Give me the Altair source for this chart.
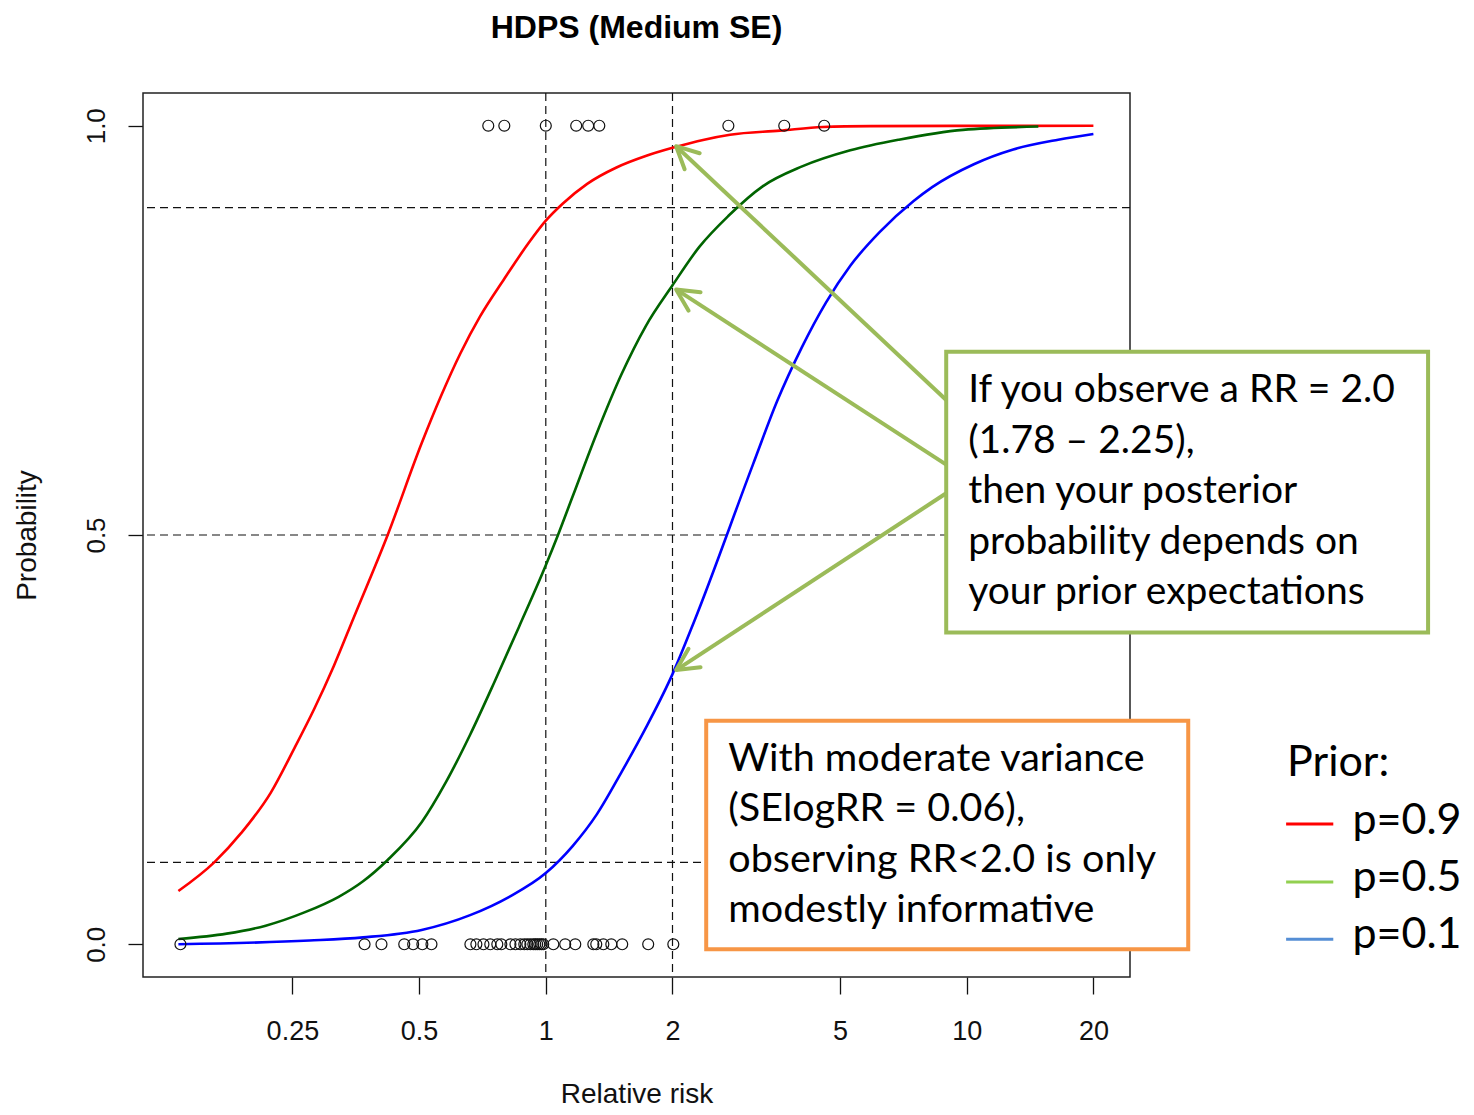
import math
import altair as alt
import pandas as pd

# ---------------- data ----------------
red_x = [0.134, 0.163, 0.189, 0.222, 0.253, 0.282, 0.3136, 0.349, 0.421, 0.507, 0.564,
         0.627, 0.698, 0.797, 0.911, 1.0, 1.098, 1.254, 1.472, 1.727, 2.0, 2.379, 2.74, 3.6, 4.55, 5.9, 20.0]
red_p = [0.065, 0.100, 0.136, 0.185, 0.240, 0.288, 0.340, 0.398, 0.500, 0.612, 0.670,
         0.722, 0.767, 0.813, 0.857, 0.884, 0.905, 0.929, 0.949, 0.963, 0.973, 0.983, 0.989, 0.994, 0.9985,
         0.9995, 1.0]

green_x = [0.134, 0.1745, 0.216, 0.267, 0.322, 0.368, 0.421, 0.507, 0.579, 0.661, 0.756, 0.864, 1.0,
           1.069, 1.158, 1.323, 1.512, 1.727, 2.0, 2.316, 2.717, 3.275, 4.05, 5.29, 6.9, 9.8, 14.8]
green_p = [0.0065, 0.013, 0.0227, 0.0389, 0.058, 0.077, 0.103, 0.149, 0.198, 0.256, 0.321, 0.388, 0.463,
           0.500, 0.547, 0.625, 0.696, 0.755, 0.805, 0.852, 0.890, 0.926, 0.950, 0.970, 0.983, 0.995, 0.999]

blue_x = [0.134, 0.2745, 0.368, 0.507, 0.661, 0.819, 1.0, 1.158, 1.323, 1.512, 1.727, 2.0, 2.254,
          3.105, 3.548, 4.055, 4.63, 5.29, 6.21, 7.48, 8.28, 10.4, 12.9, 16.5, 20.0]
blue_p = [0.0, 0.0045, 0.0084, 0.0175, 0.0356, 0.058, 0.087, 0.120, 0.159, 0.210, 0.264, 0.330, 0.395,
          0.586, 0.664, 0.729, 0.784, 0.829, 0.870, 0.908, 0.925, 0.953, 0.971, 0.983, 0.990]

# observed relative risks (circles) at probability 0 and 1
obs0_x = [0.1355, 0.371, 0.407, 0.461, 0.484, 0.509, 0.535, 0.662, 0.684, 0.711, 0.738, 0.767, 0.784,
          0.824, 0.847, 0.870, 0.889, 0.904, 0.919, 0.934, 0.944, 0.954, 0.965, 0.976, 0.986,
          1.042, 1.112, 1.175, 1.297, 1.318, 1.370, 1.431, 1.519, 1.751, 2.009, 3.96]
obs1_x = [0.730, 0.797, 1.0, 1.181, 1.261, 1.340, 2.715, 3.686, 4.587]

x_ticks = [0.25, 0.5, 1, 2, 5, 10, 20]
y_ticks = [0.0, 0.5, 1.0]
h_ref = [0.1, 0.5, 0.9]
v_ref = [1, 2]

series_names = ["p=0.9", "p=0.5", "p=0.1"]
curve_colors = ["#FF0000", "#006400", "#0000FF"]
legend_colors = ["#FF0000", "#92D050", "#558ED5"]

# annotations (data coordinates)
green_box = dict(x=8.94, x2=124.8, y=0.724, y2=0.381)
orange_box = dict(x=2.405, x2=33.6, y=0.273, y2=-0.006)
green_text = ["If you observe a RR = 2.0", "(1.78 \u2013 2.25),", "then your posterior",
              "probability depends on", "your prior expectations"]
orange_text = ["With moderate variance", "(SElogRR = 0.06),", "observing RR<2.0 is only",
               "modestly informative"]
green_text_pos = (10.08, 0.662)
orange_text_pos = (2.714, 0.212)
arrow_start_x = [8.94, 8.94, 8.94]
arrow_start_y = [0.665, 0.586, 0.551]
arrow_tip_x = [2.04, 2.04, 2.04]
arrow_tip_y = [0.975, 0.800, 0.335]

legend_title_pos = (57.7, 0.206)
legend_line_x = (57.4, 74.3)
legend_line_y = [0.147, 0.076, 0.006]
legend_text_x = 82.5
legend_text_y = [0.135, 0.065, -0.005]

# ---------------- layout ----------------
W, H = 987, 884
XLO, XHI = 10 ** -0.957, 10 ** 1.388
YLO, YHI = -0.04, 1.04

xs = alt.Scale(type="log", domain=[XLO, XHI], nice=False)
ys = alt.Scale(domain=[YLO, YHI], nice=False, zero=False)

x_axis = alt.Axis(values=x_ticks, format="~g", title="Relative risk", grid=False, domain=False,
                  tickSize=17, tickColor="#111", tickWidth=1.3, labelFontSize=27,
                  labelFont="Liberation Sans", labelColor="#111", labelPadding=24,
                  labelFlush=False, labelOverlap=False, titleFont="Liberation Sans",
                  titleFontSize=28, titleFontWeight="normal", titleColor="#111", titlePadding=36)
y_axis = alt.Axis(values=y_ticks, format=".1f", title="Probability", grid=False, domain=False,
                  tickSize=15, tickColor="#111", tickWidth=1.3, labelFontSize=26,
                  labelFont="Liberation Sans", labelColor="#111", labelAngle=270,
                  labelAlign="center", labelBaseline="bottom", labelPadding=19,
                  labelFlush=False, titleFont="Liberation Sans", titleFontSize=28,
                  titleFontWeight="normal", titleColor="#111", titlePadding=42)

X = lambda f="x": alt.X(f"{f}:Q", scale=xs, axis=x_axis)
Y = lambda f="y": alt.Y(f"{f}:Q", scale=ys, axis=y_axis)


def px(x):
    return W * (math.log10(x) - math.log10(XLO)) / (math.log10(XHI) - math.log10(XLO))


def py(y):
    return H * (1 - (y - YLO) / (YHI - YLO))


# frame
frame = alt.Chart(pd.DataFrame({"x": [XLO], "x2": [XHI], "y": [YLO], "y2": [YHI]})).mark_rect(
    fill="white", stroke="#222", strokeWidth=1.5
).encode(x=X(), x2="x2:Q", y=Y(), y2="y2:Q")

hlines = alt.Chart(pd.DataFrame({"y": h_ref})).mark_rule(
    color="#111", strokeDash=[8, 5], strokeWidth=1.2
).encode(y=Y())
vlines = alt.Chart(pd.DataFrame({"x": v_ref})).mark_rule(
    color="#111", strokeDash=[8, 5], strokeWidth=1.2
).encode(x=X())

rows = []
for name, xv, pv in zip(series_names, [red_x, green_x, blue_x], [red_p, green_p, blue_p]):
    for i, (a, b) in enumerate(zip(xv, pv)):
        rows.append({"x": a, "y": b, "s": name, "o": i})
curves = alt.Chart(pd.DataFrame(rows)).mark_line(strokeWidth=2.6, interpolate="monotone").encode(
    x=X(), y=Y(), order="o:Q",
    color=alt.Color("s:N", scale=alt.Scale(domain=series_names, range=curve_colors), legend=None),
)

pts = pd.DataFrame({"x": obs0_x + obs1_x, "y": [0.0] * len(obs0_x) + [1.0] * len(obs1_x)})
points = alt.Chart(pts).mark_point(shape="circle", filled=False, color="#111", size=120,
                                   strokeWidth=1.2, opacity=1).encode(x=X(), y=Y())

arr = pd.DataFrame({"x": arrow_start_x, "y": arrow_start_y, "x2": arrow_tip_x, "y2": arrow_tip_y})
arrow_lines = alt.Chart(arr).mark_rule(color="#9BBB59", strokeWidth=4).encode(
    x=X(), y=Y(), x2="x2:Q", y2="y2:Q")

angles = []
for sx, sy, tx, ty in zip(arrow_start_x, arrow_start_y, arrow_tip_x, arrow_tip_y):
    dx = px(tx) - px(sx)
    dy = py(ty) - py(sy)
    angles.append(math.degrees(math.atan2(dx, -dy)) % 360)
heads = alt.Chart(pd.DataFrame({"x": arrow_tip_x, "y": arrow_tip_y, "a": angles})).mark_point(
    shape="M -0.55 1.1 L 0 0 L 0.55 1.1", filled=False, stroke="#9BBB59", strokeWidth=4,
    size=1600, opacity=1, strokeCap="round", strokeJoin="round"
).encode(x=X(), y=Y(), angle=alt.Angle("a:Q", scale=None))

gbox = alt.Chart(pd.DataFrame([green_box])).mark_rect(fill="white", stroke="#9BBB59", strokeWidth=4).encode(
    x=X(), x2="x2:Q", y=Y(), y2="y2:Q")
obox = alt.Chart(pd.DataFrame([orange_box])).mark_rect(fill="white", stroke="#F79646", strokeWidth=4).encode(
    x=X(), x2="x2:Q", y=Y(), y2="y2:Q")

gtext = alt.Chart(pd.DataFrame({"x": [green_text_pos[0]], "y": [green_text_pos[1]],
                                "t": ["\n".join(green_text)]})).mark_text(
    align="left", baseline="alphabetic", font="Lato", fontSize=39, lineHeight=50.5,
    lineBreak="\n", color="#000"
).encode(x=X(), y=Y(), text="t:N")
otext = alt.Chart(pd.DataFrame({"x": [orange_text_pos[0]], "y": [orange_text_pos[1]],
                                "t": ["\n".join(orange_text)]})).mark_text(
    align="left", baseline="alphabetic", font="Lato", fontSize=39.5, lineHeight=50.5,
    lineBreak="\n", color="#000"
).encode(x=X(), y=Y(), text="t:N")

ltitle = alt.Chart(pd.DataFrame({"x": [legend_title_pos[0]], "y": [legend_title_pos[1]], "t": ["Prior:"]})).mark_text(
    align="left", baseline="alphabetic", font="Lato", fontSize=43, color="#000"
).encode(x=X(), y=Y(), text="t:N")
lg = pd.DataFrame({"x": [legend_line_x[0]] * 3, "x2": [legend_line_x[1]] * 3, "y": legend_line_y,
                   "s": series_names})
llines = alt.Chart(lg).mark_rule(strokeWidth=3).encode(
    x=X(), x2="x2:Q", y=Y(),
    color=alt.Color("s:N", scale=alt.Scale(domain=series_names, range=legend_colors), legend=None))
lt = pd.DataFrame({"x": [legend_text_x] * 3, "y": legend_text_y, "t": series_names})
ltexts = alt.Chart(lt).mark_text(align="left", baseline="alphabetic", font="Lato", fontSize=43,
                                 color="#000").encode(x=X(), y=Y(), text="t:N")

chart = alt.layer(
    frame, hlines, vlines, curves, points, arrow_lines, heads, gbox, obox, gtext, otext,
    ltitle, llines, ltexts
).resolve_scale(color="independent").properties(
    width=W, height=H,
    title=alt.TitleParams("HDPS (Medium SE)", font="Liberation Sans", fontSize=32, fontWeight="bold",
                          anchor="middle", frame="group", offset=47, color="#000"),
    autosize=alt.AutoSizeParams(type="none"),
    padding={"left": 135, "top": 85, "right": 335, "bottom": 130},
).configure_view(strokeWidth=0)

chart.save("out.html", embed_options={"renderer": "svg", "actions": False})
